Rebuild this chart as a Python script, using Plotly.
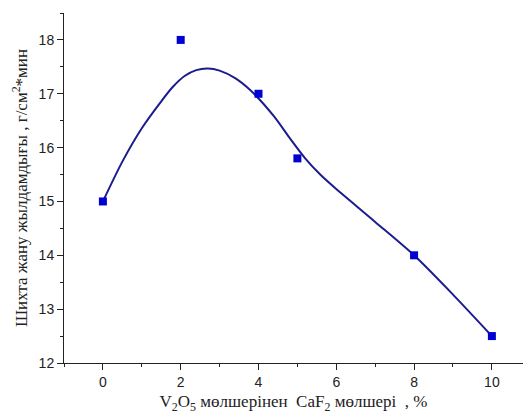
import plotly.graph_objects as go

x_pts = [0, 2, 4, 5, 8, 10]
y_pts = [15.0, 18.0, 17.0, 15.8, 14.0, 12.5]

curve_x = [0, 0.5, 1.0, 1.5, 1.8, 2.1, 2.4, 2.7, 3.0, 3.4, 3.8, 4.4, 4.8, 5.2, 5.6, 6.0, 7.0, 8.0, 9.0, 10.0]
curve_y = [15.0, 15.74, 16.36, 16.86, 17.13, 17.33, 17.44, 17.47, 17.43, 17.29, 17.06, 16.58, 16.18, 15.8, 15.49, 15.23, 14.62, 14.0, 13.27, 12.5]

x_ticks = [0, 2, 4, 6, 8, 10]
y_ticks = [12, 13, 14, 15, 16, 17, 18]

fig = go.Figure()
fig.add_trace(go.Scatter(x=curve_x, y=curve_y, mode="lines",
                         line=dict(color="#1c1c8e", width=2, shape="spline", smoothing=0.8),
                         hoverinfo="skip", showlegend=False))
fig.add_trace(go.Scatter(x=x_pts, y=y_pts, mode="markers",
                         marker=dict(symbol="square", size=8, color="#0000d0"),
                         showlegend=False))

tick_font = dict(family="Liberation Sans, Arial, sans-serif", size=14, color="#222")
title_font = dict(family="Liberation Serif, Times New Roman, serif", size=17, color="#222")

fig.update_xaxes(range=[-1, 10.8], tickvals=x_ticks, ticks="outside", ticklen=6, tickwidth=1,
                 minor=dict(dtick=1, tick0=0, ticks="outside", ticklen=3, tickcolor="#222"),
                 showline=True, linecolor="#222", linewidth=1, tickcolor="#222",
                 showgrid=False, zeroline=False, tickfont=tick_font,
                 title=dict(text="V<sub>2</sub>O<sub>5</sub> мөлшерінен  CaF<sub>2</sub> мөлшері  , %",
                            font=title_font, standoff=6))
fig.update_yaxes(range=[12, 18.5], tickvals=y_ticks, ticks="outside", ticklen=6, tickwidth=1,
                 minor=dict(dtick=0.5, tick0=12, ticks="outside", ticklen=3, tickcolor="#222"),
                 showline=True, linecolor="#222", linewidth=1, tickcolor="#222",
                 showgrid=False, zeroline=False, tickfont=tick_font,
                 title=dict(text="Шихта жану жылдамдығы , г/см<sup>2</sup>*мин",
                            font=title_font, standoff=6))
fig.update_layout(width=523, height=419, margin=dict(l=64, r=0, t=13, b=56),
                  plot_bgcolor="white", paper_bgcolor="white")
fig.write_html("out.html")
